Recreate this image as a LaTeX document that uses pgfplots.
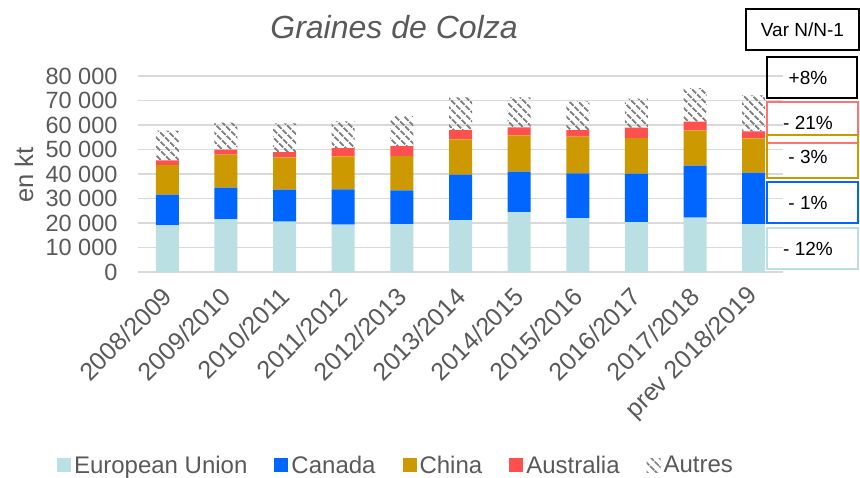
\documentclass[border=0pt]{standalone}
\usepackage{pgfplots}
\pgfplotsset{compat=1.18}
\usepackage{fontspec}
\setmainfont{Liberation Sans}
\usetikzlibrary{patterns.meta}
\definecolor{eu}{HTML}{BBE0E3}
\definecolor{can}{HTML}{0066FF}
\definecolor{chn}{HTML}{CC9900}
\definecolor{aus}{HTML}{FF5050}
\definecolor{txt}{HTML}{595959}
\definecolor{grd}{HTML}{D9D9D9}
\definecolor{hatch}{HTML}{808080}
\pgfplotstableread{
x EU Canada China Australia Autres
0 19040 12510 12110 1900 12100
1 21490 12920 13460 2040 11020
2 20540 13050 13190 2180 11700
3 19310 14420 13460 3400 10880
4 19580 13740 14010 4080 12240
5 21220 18490 14420 3810 13320
6 24480 16460 14820 3260 12240
7 22030 18230 14960 2720 11690
8 20400 19720 14550 4220 11830
9 22170 21210 14420 3540 13730
10 19580 20950 14010 2850 14690
}\datatable
\begin{document}
\begin{tikzpicture}[x=1pt,y=1pt]
\path[use as bounding box] (0,0) rectangle (860,477);
\begin{axis}[
  at={(138pt,205pt)}, anchor=south west,
  scale only axis, width=645pt, height=196pt,
  ybar stacked, bar width=23pt,
  xmin=-0.5, xmax=10.5, ymin=0, ymax=80000,
  xtick={0,...,10},
  xticklabels={2008/2009,2009/2010,2010/2011,2011/2012,2012/2013,2013/2014,2014/2015,2015/2016,2016/2017,2017/2018,prev 2018/2019},
  ytick={0,10000,...,80000},
  scaled y ticks=false,
  ymajorgrids, major grid style={grd, line width=1.5pt},
  axis line style={draw=none},
  major tick length=0pt,
  tick label style={text=txt},
  yticklabel style={font=\fontsize{23.5}{26}\selectfont, xshift=-17pt},
  xticklabel style={font=\fontsize{25}{28}\selectfont, rotate=45, anchor=east, yshift=-14.3pt, xshift=-10.7pt},
  /pgf/number format/.cd, fixed, precision=0, 1000 sep={\ }, assume math mode=true,
  /pgfplots/.cd,
  legend columns=5,
  legend style={at={(0.4008,-0.985)}, anchor=center, draw=none, fill=none,
    font=\fontsize{24}{27}\selectfont, text=txt,
    nodes={inner xsep=3pt},
    /tikz/every even column/.append style={column sep=24pt}},
  legend image code/.code={\fill[#1] (0pt,-7pt) rectangle (14pt,7pt);},
]
\addplot[fill=eu, draw=none] table[x=x, y=EU] {\datatable};
\addlegendentry{European Union}
\addplot[fill=can, draw=none] table[x=x, y=Canada] {\datatable};
\addlegendentry{Canada}
\addplot[fill=chn, draw=none] table[x=x, y=China] {\datatable};
\addlegendentry{China}
\addplot[fill=aus, draw=none] table[x=x, y=Australia] {\datatable};
\addlegendentry{Australia}
\addplot[draw=none, pattern={Lines[angle=-45, distance=6.5pt, line width=2pt]}, pattern color=hatch] table[x=x, y=Autres] {\datatable};
\addlegendentry{Autres}
\end{axis}
\node[font=\itshape\fontsize{32}{36}\selectfont, text=txt] at (394,450) {Graines de Colza};
\node[rotate=90, font=\fontsize{25.5}{28}\selectfont, text=txt] at (24,302) {en kt};
% Var N/N-1 boxes
\draw[black, line width=1.2pt] (746,427) rectangle (859,468);
\node[font=\fontsize{19}{22}\selectfont] at (802.5,447.5) {Var N/N-1};
\draw[black, line width=1.8pt] (767,379) rectangle (857,420);
\node[font=\fontsize{19}{22}\selectfont] at (808,399.5) {+8\%};
\draw[aus!80!white, line width=1.2pt] (767,334) rectangle (858,375);
\node[font=\fontsize{19}{22}\selectfont] at (808,354.5) {- 21\%};
\draw[chn, line width=1.2pt] (767,299) rectangle (858,342);
\node[font=\fontsize{19}{22}\selectfont] at (808,320.5) {- 3\%};
\draw[can, line width=1.2pt] (767,254) rectangle (858,295);
\node[font=\fontsize{19}{22}\selectfont] at (808,274.5) {- 1\%};
\draw[eu, line width=1.2pt] (767,208) rectangle (858,249);
\node[font=\fontsize{19}{22}\selectfont] at (808,228.5) {- 12\%};
\end{tikzpicture}
\end{document}
